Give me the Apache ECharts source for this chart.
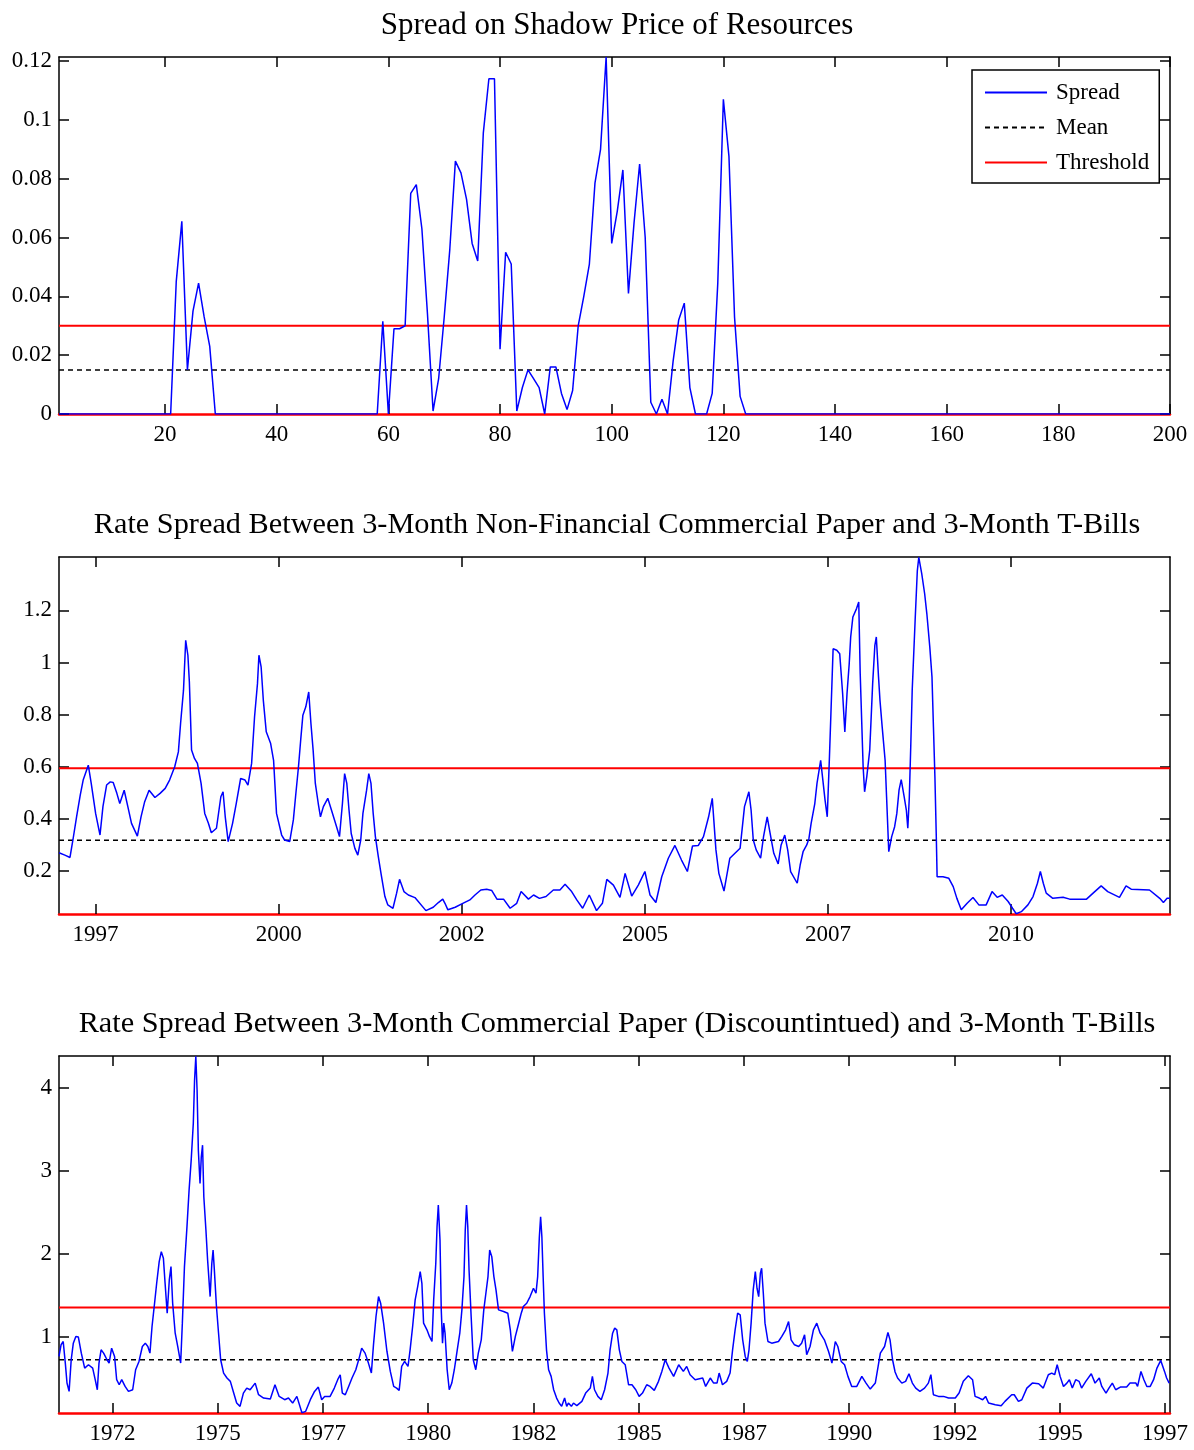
<!DOCTYPE html>
<html>
<head>
<meta charset="utf-8">
<script src="https://cdn.jsdelivr.net/npm/echarts@6/dist/echarts.min.js"></script>
<style>
html,body{margin:0;padding:0;background:#fff;}
#chart{width:1194px;height:1450px;}
</style>
</head>
<body>
<div id="chart"></div>
<script>
// ---------- Panel 1: Spread on Shadow Price of Resources (index 1..200) ----------
const p1Title = 'Spread on Shadow Price of Resources';
const p1Spread = [
  0,0,0,0,0,0,0,0,0,0, 0,0,0,0,0,0,0,0,0,0,            // 1-20
  0,0.045,0.0655,0.015,0.035,0.0445,0.033,0.023,0,0,  // 21-30
  0,0,0,0,0,0,0,0,0,0, 0,0,0,0,0,0,0,0,0,0,            // 31-50
  0,0,0,0,0,0,0,0,0.0315,0,                            // 51-60
  0.029,0.029,0.030,0.075,0.078,0.063,0.034,0.001,0.012,0.033, // 61-70
  0.056,0.086,0.082,0.073,0.058,0.052,0.0955,0.114,0.114,0.022, // 71-80
  0.055,0.051,0.001,0.009,0.015,0.012,0.009,0,0.016,0.016,     // 81-90
  0.007,0.0015,0.008,0.030,0.040,0.051,0.0785,0.090,0.1214,0.058, // 91-100
  0.069,0.083,0.041,0.065,0.085,0.060,0.004,0,0.005,0,         // 101-110
  0.018,0.032,0.0377,0.009,0,0,0,0.007,0.0445,0.107,           // 111-120
  0.0876,0.033,0.006,0,0,0,0,0,0,0,                            // 121-130
  0,0,0,0,0,0,0,0,0,0, 0,0,0,0,0,0,0,0,0,0,                   // 131-150
  0,0,0,0,0,0,0,0,0,0, 0,0,0,0,0,0,0,0,0,0,                   // 151-170
  0,0,0,0,0,0,0,0,0,0, 0,0,0,0,0,0,0,0,0,0,                   // 171-190
  0,0,0,0,0,0,0,0,0,0                                          // 191-200
];
const p1Mean = 0.015;
const p1Threshold = 0.030;
const p1XTicks = [20,40,60,80,100,120,140,160,180,200];
const p1YTicks = [0,0.02,0.04,0.06,0.08,0.1,0.12];
const p1YLabels = ['0','0.02','0.04','0.06','0.08','0.1','0.12'];

// ---------- Panel 2: 3-Month Non-Financial CP vs T-Bills ----------
const p2Title = 'Rate Spread Between 3-Month Non-Financial Commercial Paper and 3-Month T-Bills';
const p2Years = [
 1997.00,1997.08,1997.15,1997.19,1997.24,1997.29,1997.33,1997.40,1997.44,1997.50,
 1997.56,1997.60,1997.65,1997.70,1997.74,1997.79,1997.83,1997.89,1997.94,1997.99,
 1998.07,1998.12,1998.17,1998.23,1998.31,1998.38,1998.45,1998.51,1998.58,1998.63,
 1998.66,1998.70,1998.73,1998.76,1998.78,1998.81,1998.85,1998.89,1998.94,1998.99,
 1999.04,1999.08,1999.15,1999.21,1999.24,1999.27,1999.31,1999.37,1999.42,1999.48,
 1999.54,1999.58,1999.63,1999.67,1999.71,1999.73,1999.76,1999.79,1999.83,1999.89,
 1999.93,1999.97,2000.04,2000.08,2000.15,2000.20,2000.23,2000.27,2000.30,2000.33,
 2000.37,2000.41,2000.44,2000.47,2000.50,2000.54,2000.57,2000.61,2000.67,2000.72,
 2000.79,2000.83,2000.87,2000.90,2000.93,2000.96,2000.99,2001.04,2001.08,2001.12,
 2001.15,2001.20,2001.23,2001.26,2001.29,2001.32,2001.36,2001.40,2001.45,2001.49,
 2001.56,2001.61,2001.65,2001.71,2001.77,2001.86,
 2002.01,2002.11,2002.18,2002.24,2002.27,2002.31,2002.41,2002.50,2002.61,2002.68,
 2002.76,2002.84,2002.91,2002.98,2003.07,2003.16,2003.25,2003.31,2003.41,2003.48,
 2003.56,2003.65,2003.75,2003.84,2003.91,2004.00,2004.07,2004.15,2004.24,2004.34,
 2004.42,2004.48,2004.57,2004.66,2004.73,2004.82,2004.91,2005.00,2005.07,2005.15,
 2005.23,2005.32,2005.41,2005.50,2005.58,2005.65,2005.73,2005.80,2005.87,2005.92,
 2005.97,2006.01,2006.08,2006.16,2006.23,2006.30,2006.36,2006.42,2006.45,2006.48,
 2006.52,2006.58,2006.62,2006.67,2006.71,2006.76,2006.82,2006.86,2006.91,2006.95,
 2006.99,
 2007.08,2007.12,2007.16,2007.21,2007.24,2007.27,2007.32,2007.35,2007.40,2007.43,
 2007.46,2007.49,2007.52,2007.54,2007.57,2007.62,2007.66,2007.70,2007.73,2007.76,
 2007.79,2007.81,2007.84,2007.89,2007.92,2007.94,2007.98,2008.00,2008.03,2008.07,
 2008.11,2008.14,2008.16,2008.19,2008.21,2008.24,2008.28,2008.30,2008.33,2008.37,
 2008.41,2008.44,2008.47,2008.50,2008.54,2008.57,2008.59,2008.61,2008.63,2008.65,
 2008.69,2008.72,2008.74,2008.78,2008.82,2008.85,2008.89,2008.92,2008.94,2008.96,
 2008.98,2008.99,2009.07,2009.15,2009.21,2009.26,2009.32,2009.40,2009.48,2009.56,
 2009.66,2009.74,2009.81,2009.88,2009.96,2010.02,2010.07,2010.14,2010.23,2010.30,
 2010.36,2010.40,2010.44,2010.48,2010.57,2010.71,2010.80,2011.03,2011.12,2011.23,
 2011.32,2011.48,2011.57,2011.64,2011.89,2012.03,2012.08,2012.13,2012.17
];
const p2Spread = [
 0.270,0.261,0.252,0.319,0.408,0.491,0.549,0.606,0.536,0.421,
 0.338,0.447,0.530,0.542,0.540,0.498,0.459,0.510,0.447,0.383,
 0.334,0.408,0.466,0.510,0.482,0.498,0.517,0.549,0.600,0.657,
 0.766,0.894,1.085,1.028,0.926,0.664,0.632,0.613,0.536,0.421,
 0.383,0.347,0.364,0.485,0.504,0.408,0.313,0.383,0.459,0.555,
 0.549,0.530,0.613,0.791,0.919,1.028,0.983,0.855,0.734,0.689,
 0.625,0.421,0.338,0.319,0.313,0.396,0.485,0.600,0.702,0.798,
 0.830,0.887,0.766,0.664,0.536,0.459,0.408,0.447,0.479,0.434,
 0.370,0.332,0.459,0.574,0.536,0.434,0.344,0.287,0.261,0.319,
 0.421,0.510,0.574,0.536,0.421,0.332,0.255,0.185,0.102,0.070,
 0.057,0.115,0.168,0.121,0.108,0.098,
 0.048,0.061,0.079,0.092,0.076,0.051,0.061,0.074,0.089,0.108,
 0.127,0.130,0.125,0.092,0.092,0.057,0.076,0.121,0.092,0.108,
 0.095,0.102,0.127,0.127,0.149,0.121,0.089,0.057,0.108,0.048,
 0.076,0.168,0.146,0.099,0.191,0.104,0.146,0.198,0.108,0.079,
 0.178,0.249,0.298,0.242,0.198,0.296,0.298,0.332,0.408,0.479,
 0.281,0.191,0.123,0.249,0.268,0.287,0.447,0.504,0.434,0.319,
 0.281,0.249,0.332,0.408,0.344,0.268,0.227,0.300,0.338,0.281,
 0.198,
 0.153,0.223,0.274,0.300,0.325,0.383,0.459,0.536,0.625,0.549,
 0.472,0.408,0.638,0.804,1.053,1.047,1.034,0.881,0.734,0.881,
 0.996,1.098,1.175,1.207,1.232,0.957,0.600,0.504,0.562,0.664,
 0.919,1.066,1.098,0.945,0.855,0.753,0.625,0.485,0.274,0.332,
 0.370,0.421,0.510,0.551,0.485,0.434,0.364,0.479,0.677,0.894,
 1.162,1.353,1.404,1.341,1.264,1.187,1.060,0.945,0.753,0.562,
 0.319,0.178,0.178,0.172,0.140,0.095,0.051,0.076,0.098,0.070,
 0.070,0.121,0.099,0.108,0.083,0.057,0.036,0.044,0.070,0.102,
 0.153,0.198,0.153,0.115,0.095,0.099,0.092,0.092,0.115,0.143,
 0.121,0.099,0.143,0.130,0.127,0.095,0.079,0.095,0.095
];
const p2Mean = 0.318;
const p2Threshold = 0.594;
const p2XTicks = [1997.5,2000,2002.5,2005,2007.5,2010];
const p2XLabels = ['1997','2000','2002','2005','2007','2010'];
const p2YTicks = [0.2,0.4,0.6,0.8,1.0,1.2];
const p2YLabels = ['0.2','0.4','0.6','0.8','1','1.2'];

// ---------- Panel 3: 3-Month CP (discontinued) vs T-Bills ----------
const p3Title = 'Rate Spread Between 3-Month Commercial Paper (Discountintued) and 3-Month T-Bills';
const p3Years = [
 1971.23,1971.28,1971.33,1971.38,1971.42,1971.47,1971.52,1971.57,1971.63,1971.69,
 1971.76,1971.84,1971.93,1972.03,1972.09,1972.14,1972.18,1972.23,1972.29,1972.37,
 1972.42,1972.48,1972.55,1972.60,1972.66,1972.72,1972.80,1972.88,1972.98,1973.05,
 1973.13,1973.21,1973.28,1973.34,1973.39,1973.44,1973.50,1973.55,1973.61,1973.66,
 1973.71,1973.75,1973.80,1973.85,1973.89,1973.93,1973.99,1974.05,1974.12,1974.16,
 1974.21,1974.27,1974.32,1974.37,1974.42,1974.45,1974.48,1974.51,1974.54,1974.58,
 1974.61,1974.64,1974.67,1974.72,1974.76,1974.82,1974.86,1974.89,1974.92,1974.97,
 1975.02,1975.07,1975.14,1975.22,1975.30,1975.38,1975.45,1975.53,1975.61,1975.69,
 1975.77,1975.89,1975.97,1976.09,1976.25,1976.36,1976.46,1976.59,1976.68,1976.78,
 1976.88,1977.00,1977.09,1977.20,1977.30,1977.39,1977.47,1977.54,1977.67,1977.77,
 1977.85,1977.91,1977.96,1978.03,1978.11,1978.19,1978.28,1978.36,1978.42,1978.50,
 1978.58,1978.65,1978.70,1978.76,1978.82,1978.87,1978.94,1979.02,1979.10,1979.18,
 1979.25,1979.31,1979.37,1979.44,1979.52,1979.57,1979.63,1979.69,1979.75,1979.81,
 1979.85,1979.89,1979.97,1980.03,1980.09,1980.13,1980.18,1980.21,1980.24,1980.28,
 1980.31,1980.34,1980.37,1980.40,1980.45,1980.50,1980.56,1980.62,1980.69,1980.75,
 1980.80,1980.85,1980.88,1980.91,1980.94,1980.97,1981.02,1981.07,1981.13,1981.19,
 1981.26,1981.32,1981.37,1981.42,1981.46,1981.51,1981.56,1981.61,1981.67,1981.79,
 1981.89,1981.95,1982.00,1982.07,1982.13,1982.21,1982.26,1982.34,1982.42,1982.50,
 1982.56,1982.60,1982.64,1982.67,1982.70,1982.73,1982.76,1982.81,1982.86,1982.92,
 1982.98,1983.05,1983.11,1983.17,1983.24,1983.29,1983.33,1983.40,1983.45,1983.53,
 1983.65,1983.74,1983.85,1983.90,1983.95,1984.03,1984.11,1984.19,1984.27,1984.32,
 1984.38,1984.43,1984.48,1984.54,1984.60,1984.68,1984.76,1984.84,1984.93,1985.01,
 1985.09,1985.19,1985.27,1985.37,1985.47,1985.55,1985.63,1985.72,1985.83,1985.95,
 1986.06,1986.14,1986.22,1986.34,1986.52,1986.59,1986.70,1986.78,1986.86,1986.91,
 1986.99,1987.09,1987.17,1987.23,1987.29,1987.35,1987.41,1987.47,1987.53,1987.58,
 1987.62,1987.67,1987.72,1987.77,1987.81,1987.85,1987.89,1987.92,1987.96,1988.00,
 1988.07,1988.16,1988.32,1988.40,1988.49,1988.56,1988.62,1988.70,1988.80,1988.87,
 1988.94,1988.99,1989.07,1989.15,1989.23,1989.31,1989.41,1989.51,1989.59,1989.67,
 1989.73,1989.81,1989.89,1989.97,1990.06,1990.18,1990.30,1990.40,1990.50,1990.62,
 1990.74,1990.84,1990.92,1990.97,1991.03,1991.09,1991.15,1991.25,1991.34,1991.42,
 1991.50,1991.58,1991.68,1991.79,1991.88,1991.94,1992.00,1992.12,1992.24,1992.36,
 1992.52,1992.61,1992.71,1992.83,1992.93,1992.99,1993.09,1993.17,1993.24,1993.31,
 1993.47,1993.61,1993.70,1993.86,1993.92,1994.02,1994.10,1994.22,1994.35,1994.50,
 1994.61,1994.73,1994.81,1994.88,1994.94,1995.01,1995.09,1995.17,1995.23,1995.30,
 1995.38,1995.46,1995.52,1995.62,1995.75,1995.84,1995.94,1996.00,1996.10,1996.17,
 1996.25,1996.33,1996.44,1996.59,1996.67,1996.81,1996.85,1996.93,1997.00,1997.07,
 1997.15,1997.23,1997.31,1997.40,1997.49,1997.54,1997.60
];
const p3Spread = [
 0.767,0.908,0.947,0.687,0.447,0.346,0.727,0.927,1.008,1.000,
 0.807,0.627,0.667,0.627,0.487,0.366,0.687,0.847,0.807,0.727,
 0.687,0.867,0.767,0.487,0.426,0.487,0.406,0.346,0.366,0.607,
 0.707,0.887,0.927,0.887,0.807,1.128,1.408,1.648,1.909,2.029,
 1.949,1.648,1.288,1.688,1.849,1.408,1.047,0.887,0.687,1.168,
 1.849,2.330,2.770,3.131,3.572,4.092,4.381,3.972,3.251,2.850,
 3.171,3.311,2.690,2.290,1.929,1.488,1.889,2.049,1.809,1.368,
 1.047,0.727,0.567,0.507,0.467,0.326,0.206,0.166,0.326,0.386,
 0.366,0.446,0.306,0.266,0.254,0.426,0.286,0.246,0.266,0.206,
 0.286,0.090,0.106,0.246,0.346,0.398,0.246,0.286,0.286,0.386,
 0.487,0.547,0.326,0.306,0.406,0.507,0.607,0.747,0.867,0.807,
 0.687,0.567,0.907,1.248,1.488,1.408,1.168,0.827,0.587,0.406,
 0.386,0.358,0.647,0.707,0.647,0.847,1.128,1.448,1.608,1.789,
 1.648,1.168,1.088,1.008,0.947,1.448,1.889,2.330,2.590,2.169,
 1.328,0.927,1.168,1.047,0.607,0.366,0.446,0.607,0.847,1.047,
 1.328,1.729,2.290,2.590,2.330,1.809,1.248,0.727,0.607,0.807,
 0.967,1.328,1.528,1.729,2.049,1.969,1.729,1.568,1.328,1.308,
 1.288,1.088,0.827,1.008,1.128,1.288,1.368,1.408,1.488,1.588,
 1.528,1.729,2.209,2.450,2.209,1.729,1.288,0.847,0.607,0.527,
 0.366,0.266,0.206,0.166,0.266,0.166,0.206,0.166,0.206,0.174,
 0.226,0.326,0.386,0.527,0.366,0.286,0.246,0.366,0.567,0.847,
 1.047,1.108,1.088,0.847,0.707,0.667,0.426,0.426,0.366,0.286,
 0.326,0.426,0.406,0.358,0.467,0.587,0.727,0.627,0.527,0.667,
 0.587,0.647,0.547,0.487,0.507,0.406,0.507,0.446,0.446,0.567,
 0.426,0.467,0.567,0.847,1.088,1.288,1.268,0.967,0.767,0.707,
 0.847,1.168,1.568,1.789,1.588,1.488,1.769,1.829,1.528,1.168,
 0.947,0.927,0.947,1.008,1.088,1.188,0.967,0.907,0.887,0.927,
 1.028,0.787,0.887,1.088,1.168,1.047,0.967,0.827,0.687,0.947,
 0.887,0.707,0.667,0.527,0.406,0.406,0.527,0.446,0.374,0.446,
 0.807,0.887,1.056,0.967,0.727,0.580,0.507,0.446,0.467,0.559,
 0.446,0.386,0.346,0.386,0.446,0.547,0.306,0.286,0.286,0.266,
 0.266,0.326,0.467,0.535,0.487,0.286,0.266,0.246,0.286,0.206,
 0.186,0.174,0.226,0.306,0.306,0.226,0.246,0.386,0.446,0.438,
 0.386,0.547,0.567,0.547,0.667,0.527,0.406,0.446,0.487,0.386,
 0.487,0.467,0.386,0.467,0.559,0.446,0.507,0.406,0.326,0.386,
 0.446,0.366,0.398,0.398,0.446,0.446,0.406,0.587,0.487,0.406,
 0.406,0.487,0.627,0.719,0.587,0.507,0.446
];
const p3Mean = 0.727;
const p3Threshold = 1.356;
const p3XTicks = [1972.5,1975,1977.5,1980,1982.5,1985,1987.5,1990,1992.5,1995,1997.5];
const p3XLabels = ['1972','1975','1977','1980','1982','1985','1987','1990','1992','1995','1997'];
const p3YTicks = [1,2,3,4];
const p3YLabels = ['1','2','3','4'];

const legendNames = ['Spread','Mean','Threshold'];

// ---------- build ----------
const FONT = 'Liberation Serif';
const BLUE = '#0000ff', RED = '#ff0000', BLACK = '#000000';
const panels = [
  {title:p1Title, titleSize:31, top:57, xmin:1, xmax:200, ymin:0, ymax:0.1214,
   xy:p1Spread.map((v,i)=>[i+1,v]), mean:p1Mean, thr:p1Threshold,
   xt:p1XTicks, xl:p1XTicks.map(String), yt:p1YTicks, yl:p1YLabels},
  {title:p2Title, titleSize:30.3, top:557, xmin:1997.0, xmax:2012.17, ymin:0.035, ymax:1.405,
   xy:p2Years.map((y,i)=>[y,p2Spread[i]]), mean:p2Mean, thr:p2Threshold,
   xt:p2XTicks, xl:p2XLabels, yt:p2YTicks, yl:p2YLabels},
  {title:p3Title, titleSize:30.3, top:1056, xmin:1971.23, xmax:1997.62, ymin:0.086, ymax:4.385,
   xy:p3Years.map((y,i)=>[y,p3Spread[i]]), mean:p3Mean, thr:p3Threshold,
   xt:p3XTicks, xl:p3XLabels, yt:p3YTicks, yl:p3YLabels}
];
const H = 357;
const grid=[], xAxis=[], yAxis=[], series=[], title=[];
panels.forEach((p,k)=>{
  grid.push({left:59, right:24, top:p.top, height:H, containLabel:false});
  title.push({text:p.title, left:612, top:p.top-52, textAlign:'center',
    textStyle:{fontFamily:FONT, fontSize:p.titleSize, fontWeight:'normal', color:BLACK}});
  const lab = (vals, labs) => (v)=>{ const j = vals.findIndex(t=>Math.abs(t-v)<1e-6); return j>=0?labs[j]:''; };
  xAxis.push({type:'value', gridIndex:k, position:'bottom', min:p.xmin, max:p.xmax,
    splitLine:{show:false},
    axisLine:{show:true, onZero:false, lineStyle:{color:RED, width:2.5}},
    axisTick:{show:true, inside:true, length:10, customValues:p.xt, lineStyle:{color:BLACK, width:1.5}},
    axisLabel:{show:true, customValues:p.xt, formatter:lab(p.xt,p.xl), margin:9,
      fontFamily:FONT, fontSize:23, color:BLACK}});
  xAxis.push({type:'value', gridIndex:k, position:'top', min:p.xmin, max:p.xmax,
    splitLine:{show:false},
    axisLine:{show:true, onZero:false, lineStyle:{color:BLACK, width:1.5}},
    axisTick:{show:true, inside:true, length:10, customValues:p.xt, lineStyle:{color:BLACK, width:1.5}},
    axisLabel:{show:false}});
  yAxis.push({type:'value', gridIndex:k, position:'left', min:p.ymin, max:p.ymax,
    splitLine:{show:false},
    axisLine:{show:true, onZero:false, lineStyle:{color:BLACK, width:1.5}},
    axisTick:{show:true, inside:true, length:10, customValues:p.yt, lineStyle:{color:BLACK, width:1.5}},
    axisLabel:{show:true, customValues:p.yt, formatter:lab(p.yt,p.yl), margin:7,
      fontFamily:FONT, fontSize:23, color:BLACK}});
  yAxis.push({type:'value', gridIndex:k, position:'right', min:p.ymin, max:p.ymax,
    splitLine:{show:false},
    axisLine:{show:true, onZero:false, lineStyle:{color:BLACK, width:1.5}},
    axisTick:{show:true, inside:true, length:10, customValues:p.yt, lineStyle:{color:BLACK, width:1.5}},
    axisLabel:{show:false}});
  const xi = 2*k, yi = 2*k;
  series.push({name:legendNames[0], type:'line', xAxisIndex:xi, yAxisIndex:yi, data:p.xy,
    showSymbol:false, symbol:'none', clip:true, lineStyle:{color:BLUE, width:1.5}, itemStyle:{color:BLUE}, z:3});
  series.push({name:legendNames[1], type:'line', xAxisIndex:xi, yAxisIndex:yi,
    data:[[p.xmin,p.mean],[p.xmax,p.mean]], symbol:'none',
    lineStyle:{color:BLACK, width:1.5, type:[5,4]}, itemStyle:{color:BLACK}, z:2});
  series.push({name:legendNames[2], type:'line', xAxisIndex:xi, yAxisIndex:yi,
    data:[[p.xmin,p.thr],[p.xmax,p.thr]], symbol:'none',
    lineStyle:{color:RED, width:2}, itemStyle:{color:RED}, z:2});
});

const chart = echarts.init(document.getElementById('chart'), null, {renderer:'canvas'});
chart.setOption({
  animation:false,
  backgroundColor:'#ffffff',
  title:title,
  grid:grid, xAxis:xAxis, yAxis:yAxis, series:series,
  legend:{data:legendNames, orient:'vertical', left:972, top:70,
    padding:[11,10,9,12], itemGap:12, itemWidth:62, itemHeight:22,
    itemStyle:{opacity:0, borderWidth:0},
    backgroundColor:'#ffffff', borderColor:BLACK, borderWidth:1.5, borderRadius:0,
    textStyle:{fontFamily:FONT, fontSize:23, color:BLACK, padding:[0,0,0,4]},
    selectedMode:false}
});
</script>
</body>
</html>
